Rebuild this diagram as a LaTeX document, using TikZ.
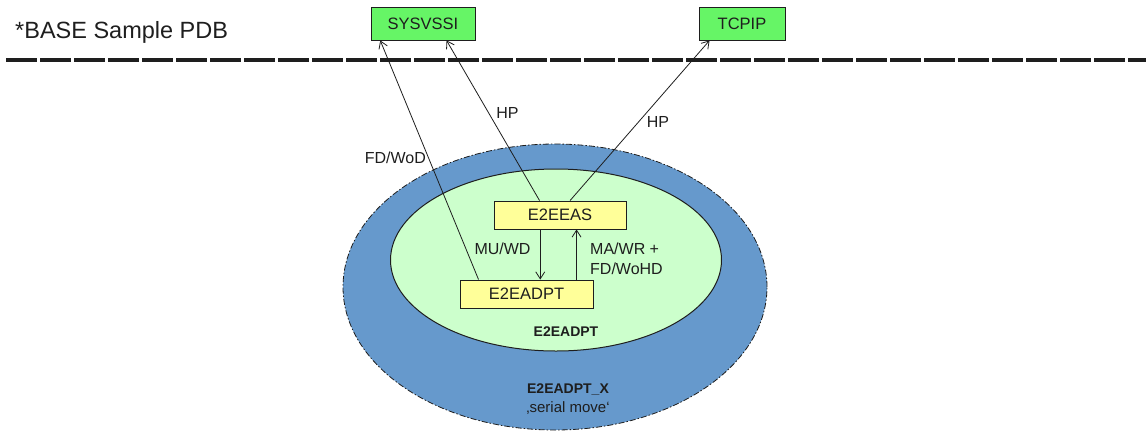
\documentclass[tikz,border=0pt]{standalone}
\usepackage{fontspec}
\setmainfont{Liberation Sans}
\usetikzlibrary{shapes.geometric,arrows.meta,calc}
\definecolor{outerblue}{RGB}{102,153,204}
\definecolor{innergreen}{RGB}{204,255,204}
\definecolor{boxyellow}{RGB}{255,255,153}
\definecolor{boxgreen}{RGB}{102,245,102}
\definecolor{ink}{RGB}{30,30,30}
\tikzset{
  yellowbox/.style={draw=ink, line width=0.9pt, fill=boxyellow, minimum width=#1, minimum height=28pt, inner sep=0pt, font=\fontsize{16.5}{19}\selectfont, text=ink},
  greenbox/.style={draw=ink, line width=0.9pt, fill=boxgreen, minimum width=#1, minimum height=33pt, inner sep=0pt, font=\fontsize{16.5}{19}\selectfont, text=ink},
  conn/.style={draw=ink, line width=0.8pt, -{Straight Barb[length=7pt,width=9pt,line width=0.8pt]}},
  lbl/.style={inner sep=0pt, text=ink, font=\fontsize{16}{19.5}\selectfont},
}
\begin{document}
\begin{tikzpicture}[x=1pt,y=-1pt]
\useasboundingbox (0,0) rectangle (1146,432);
% title and separator
\node[lbl, anchor=west, font=\fontsize{23.5}{27}\selectfont] (title) at (15,32) {*BASE Sample PDB};
\coordinate (sepL) at (6,60);
\coordinate (sepR) at (1146,60);
\draw[line width=4.5pt, ink, dash pattern=on 30.5pt off 3.5pt] (sepL) -- (sepR);
% ellipses
\node[ellipse, draw=ink, line width=0.8pt, dash pattern=on 6pt off 2pt on 1.5pt off 2pt, fill=outerblue, minimum width=424pt, minimum height=286pt, inner sep=0pt] (outer) at (555,287) {};
\node[ellipse, draw=ink, line width=1pt, fill=innergreen, minimum width=331pt, minimum height=182pt, inner sep=0pt] (inner) at (556,260) {};
\node[lbl, font=\bfseries\fontsize{14}{17}\selectfont] (innerlbl) at (566,332) {E2EADPT};
\node[lbl, font=\bfseries\fontsize{14}{17}\selectfont] (outerlbl) at (568,389) {E2EADPT\_X};
\node[lbl, font=\fontsize{15}{18}\selectfont] (outersub) at (568,408) {‚serial move‘};
% boxes
\node[greenbox=104pt] (sys) at (423,23.5) {SYSVSSI};
\node[greenbox=86pt] (tcp) at (742,23.5) {TCPIP};
\node[yellowbox=132pt] (eeas) at (560,215) {E2EEAS};
\node[yellowbox=133pt] (dpt) at (526.5,294) {E2EADPT};
% connectors
\draw[conn] ([xshift=19pt]dpt.north west) -- ([xshift=9.7pt]sys.south west);
\draw[conn] ([xshift=46pt]eeas.north west) -- ([xshift=76pt]sys.south west);
\draw[conn] ([xshift=76.5pt]eeas.north west) -- ([xshift=11pt]tcp.south west);
\draw[conn] ([xshift=46.7pt]eeas.south west) -- ([xshift=46.7pt]eeas.south west |- dpt.north);
\draw[conn] ([xshift=117pt]dpt.north west) -- ([xshift=117pt]dpt.north west |- eeas.south);
% connector labels
\node[lbl, anchor=east] (l1) at (426,158) {FD/WoD};
\node[lbl] (l2) at (507.5,113) {HP};
\node[lbl] (l3) at (658,122) {HP};
\node[lbl] (l4) at (502.5,249) {MU/WD};
\node[lbl, anchor=west, align=left] (l5) at (590,259) {MA/WR +\\FD/WoHD};
\end{tikzpicture}
\end{document}
